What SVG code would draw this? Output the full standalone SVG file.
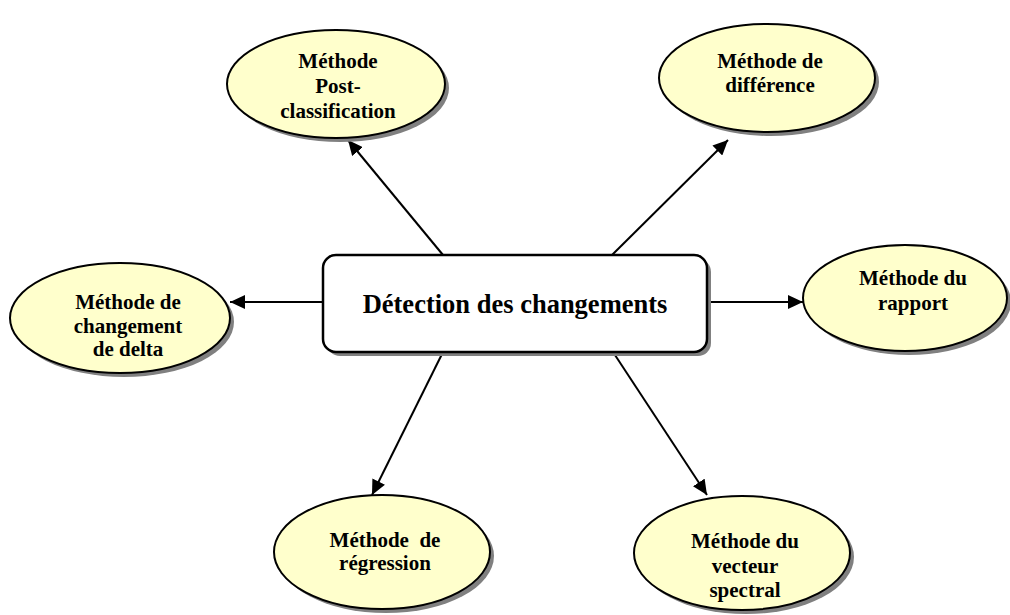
<svg xmlns="http://www.w3.org/2000/svg" width="1010" height="615" viewBox="0 0 1010 615">
  <style>
    .shadow { fill: #808080; }
    .method { fill: #ffffcc; stroke: #000; stroke-width: 2; }
    .hub { fill: #fff; stroke: #000; stroke-width: 2.5; }
    .label { font-family: "Liberation Serif", "Times New Roman", serif; font-weight: bold; font-size: 21px; fill: #000; text-anchor: middle; }
    .title { font-family: "Liberation Serif", "Times New Roman", serif; font-weight: bold; font-size: 26.5px; fill: #000; text-anchor: middle; }
    .link { stroke: #000; stroke-width: 2; fill: none; marker-end: url(#head); }
  </style>
  <defs>
    <marker id="head" markerUnits="userSpaceOnUse" markerWidth="16" markerHeight="14" refX="15" refY="7" orient="auto">
      <path d="M0,0 L15,7 L0,14 Z" fill="#000"/>
    </marker>
  </defs>
  <rect width="1010" height="615" fill="#fff"/>

  <g id="connectors">
    <line class="link" x1="443" y1="255" x2="348" y2="140"/>
    <line class="link" x1="612" y1="255" x2="728" y2="140"/>
    <line class="link" x1="322" y1="302" x2="230" y2="302"/>
    <line class="link" x1="707" y1="302" x2="803" y2="302"/>
    <line class="link" x1="443" y1="352" x2="372" y2="495"/>
    <line class="link" x1="613" y1="352" x2="707" y2="495"/>
  </g>

  <g id="hub">
    <rect class="shadow" x="327" y="259" width="384" height="97" rx="13"/>
    <rect class="hub" x="323" y="255" width="384" height="97" rx="13"/>
    <text class="title" x="515" y="313">Détection des changements</text>
  </g>

  <g id="post-classification">
    <ellipse class="shadow" cx="340" cy="88" rx="109" ry="54"/>
    <ellipse class="method" cx="336" cy="84" rx="109" ry="54"/>
    <text class="label" x="338" y="68">Méthode</text>
    <text class="label" x="338" y="93">Post-</text>
    <text class="label" x="338" y="118">classification</text>
  </g>

  <g id="difference">
    <ellipse class="shadow" cx="771" cy="82" rx="108" ry="54"/>
    <ellipse class="method" cx="767" cy="78" rx="108" ry="54"/>
    <text class="label" x="770" y="68">Méthode de</text>
    <text class="label" x="770" y="92">différence</text>
  </g>

  <g id="delta">
    <ellipse class="shadow" cx="124" cy="322" rx="110" ry="55"/>
    <ellipse class="method" cx="120" cy="318" rx="110" ry="55"/>
    <text class="label" x="128" y="309">Méthode de</text>
    <text class="label" x="128" y="333">changement</text>
    <text class="label" x="128" y="356">de delta</text>
  </g>

  <g id="rapport">
    <ellipse class="shadow" cx="909" cy="302" rx="102" ry="53"/>
    <ellipse class="method" cx="905" cy="298" rx="102" ry="53"/>
    <text class="label" x="913" y="285">Méthode du</text>
    <text class="label" x="913" y="310">rapport</text>
  </g>

  <g id="regression">
    <ellipse class="shadow" cx="386" cy="556" rx="108" ry="57"/>
    <ellipse class="method" cx="382" cy="552" rx="108" ry="57"/>
    <text class="label" x="385" y="547" xml:space="preserve">Méthode  de</text>
    <text class="label" x="385" y="570">régression</text>
  </g>

  <g id="vecteur-spectral">
    <ellipse class="shadow" cx="746" cy="557" rx="108" ry="57"/>
    <ellipse class="method" cx="742" cy="553" rx="108" ry="57"/>
    <text class="label" x="745" y="548">Méthode du</text>
    <text class="label" x="745" y="573">vecteur</text>
    <text class="label" x="745" y="597">spectral</text>
  </g>
</svg>
